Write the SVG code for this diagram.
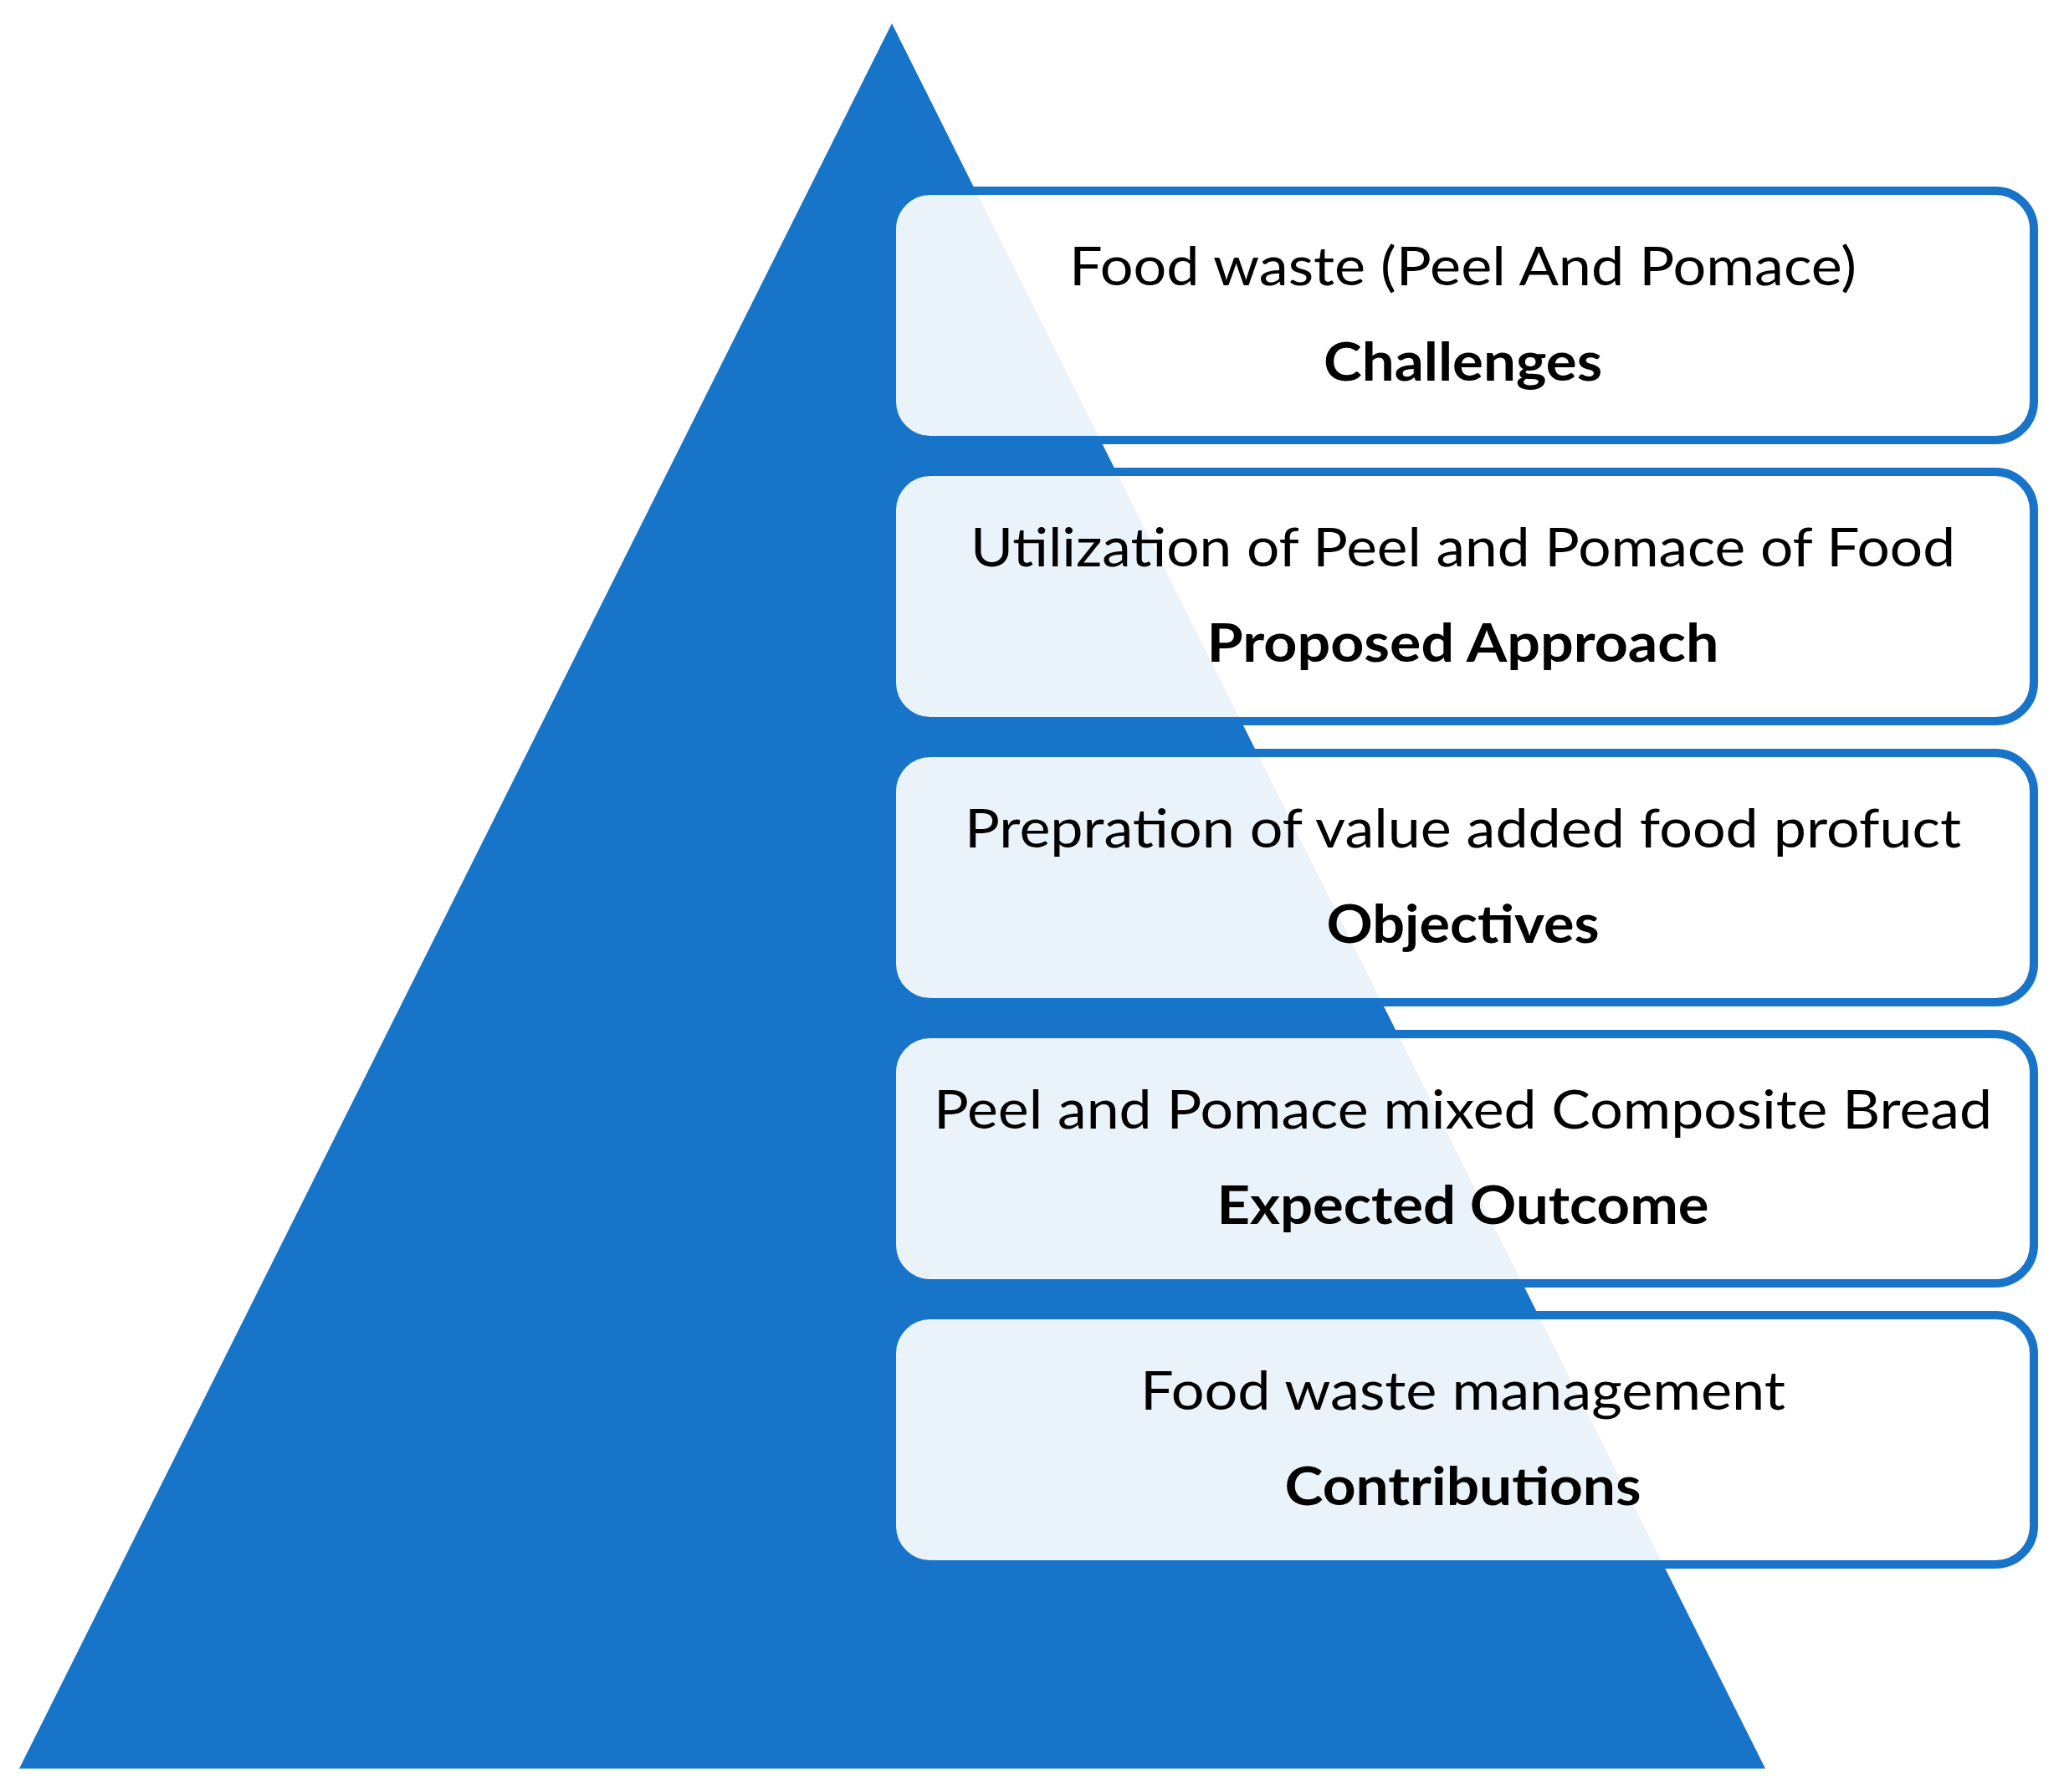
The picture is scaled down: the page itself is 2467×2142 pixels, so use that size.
<svg xmlns="http://www.w3.org/2000/svg" width="2467" height="2142" viewBox="0 0 2467 2142">
<style>
.box{fill:#ffffff;fill-opacity:0.91;stroke:#1874C8;stroke-width:10}
.t1{font-family:Lato,"Open Sans","Liberation Sans",sans-serif;font-size:64px;fill:#000;text-anchor:middle}
.t2{font-family:Lato,"Open Sans","Liberation Sans",sans-serif;font-size:64px;font-weight:bold;fill:#000;text-anchor:middle}
</style>
<rect width="2467" height="2142" fill="#ffffff"/>
<polygon id="pyramid" points="1066,28 2110,2114 23,2114" fill="#1874C8"/>
<g id="node-challenges">
<rect class="box" x="1066" y="228" width="1365" height="298" rx="46"/>
<text class="t1" x="1748.5" y="341" textLength="941" lengthAdjust="spacingAndGlyphs">Food waste (Peel And Pomace)</text>
<text class="t2" x="1748.5" y="455" textLength="333" lengthAdjust="spacingAndGlyphs">Challenges</text>
</g>
<g id="node-approach">
<rect class="box" x="1066" y="564" width="1365" height="298" rx="46"/>
<text class="t1" x="1748.5" y="677" textLength="1177" lengthAdjust="spacingAndGlyphs">Utilization of Peel and Pomace of Food</text>
<text class="t2" x="1748.5" y="791" textLength="612" lengthAdjust="spacingAndGlyphs">Proposed Approach</text>
</g>
<g id="node-objectives">
<rect class="box" x="1066" y="900" width="1365" height="298" rx="46"/>
<text class="t1" x="1748.5" y="1013" textLength="1191" lengthAdjust="spacingAndGlyphs">Prepration of value added food profuct</text>
<text class="t2" x="1748.5" y="1127" textLength="326" lengthAdjust="spacingAndGlyphs">Objectives</text>
</g>
<g id="node-outcome">
<rect class="box" x="1066" y="1236" width="1365" height="298" rx="46"/>
<text class="t1" x="1748.5" y="1349" textLength="1265" lengthAdjust="spacingAndGlyphs">Peel and Pomace mixed Composite Bread</text>
<text class="t2" x="1748.5" y="1463" textLength="588" lengthAdjust="spacingAndGlyphs">Expected Outcome</text>
</g>
<g id="node-contributions">
<rect class="box" x="1066" y="1572" width="1365" height="298" rx="46"/>
<text class="t1" x="1748.5" y="1685" textLength="771" lengthAdjust="spacingAndGlyphs">Food waste management</text>
<text class="t2" x="1748.5" y="1799" textLength="426" lengthAdjust="spacingAndGlyphs">Contributions</text>
</g>
</svg>
